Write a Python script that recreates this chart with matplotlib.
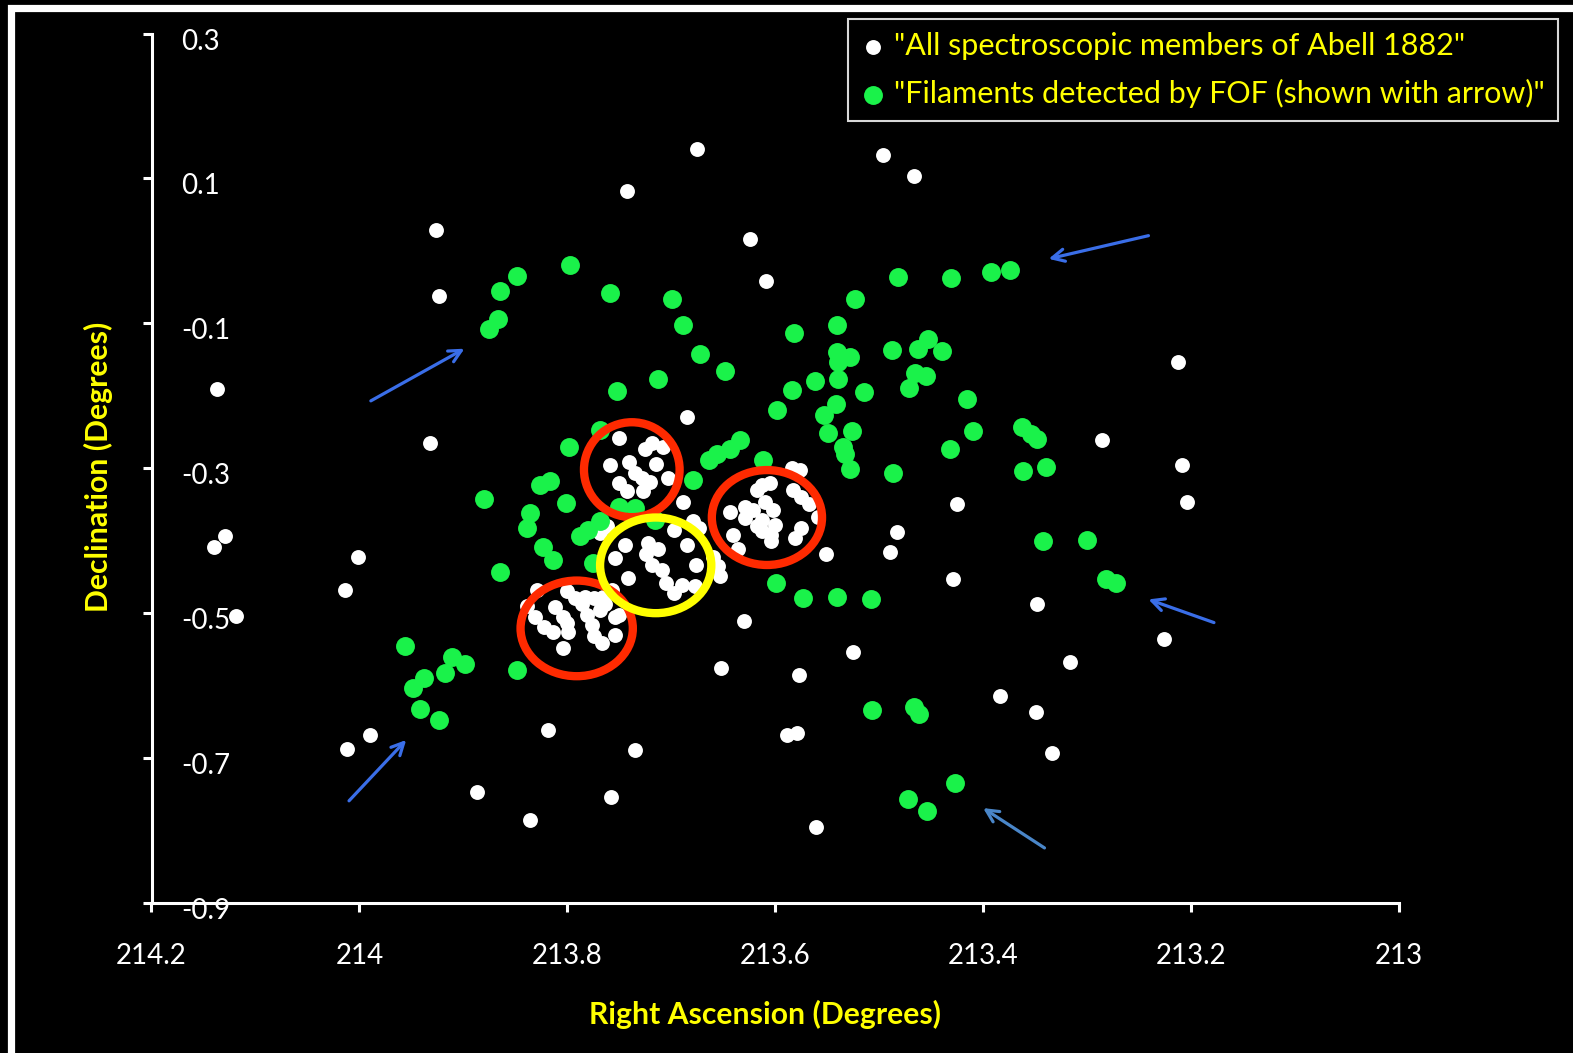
import numpy as np
import matplotlib.pyplot as plt
from matplotlib.patches import Ellipse
from matplotlib.lines import Line2D
from matplotlib.transforms import ScaledTranslation

plt.rcParams['font.family'] = ['Lato', 'DejaVu Sans']

# all spectroscopic members of the cluster (RA, Dec in degrees)
members_ra = [
    213.675, 213.743, 213.496, 213.467, 213.926, 213.923, 213.624, 213.609,
    214.137, 213.932, 213.685, 213.213, 213.286, 213.209, 213.204, 213.425,
    213.483, 213.490, 213.551, 213.429, 213.348, 214.129, 214.140, 214.119,
    214.014, 214.001, 214.012, 213.990, 213.819, 213.887, 213.836, 213.758,
    213.735, 213.652, 213.630, 213.577, 213.589, 213.579, 213.561, 213.525,
    213.384, 213.349, 213.334, 213.316, 213.226,
    # northern clump
    213.750, 213.759, 213.741, 213.725, 213.719, 213.708, 213.715, 213.735,
    213.728, 213.720, 213.703, 213.750, 213.727, 213.743, 213.689,
    # south-eastern clump
    213.829, 213.800, 213.793, 213.783, 213.774, 213.766, 213.757, 213.812,
    213.804, 213.800, 213.786, 213.781, 213.769, 213.764, 213.831, 213.822,
    213.814, 213.799, 213.776, 213.774, 213.767, 213.754, 213.750, 213.754,
    213.804, 213.839,
    # central clump
    213.679, 213.673, 213.697, 213.722, 213.713, 213.724, 213.685, 213.745,
    213.754, 213.719, 213.709, 213.676, 213.742, 213.705, 213.690, 213.697,
    213.677, 213.769, 213.762, 213.660, 213.655, 213.653,
    # western clump
    213.584, 213.576, 213.613, 213.605, 213.618, 213.583, 213.575, 213.568,
    213.644, 213.629, 213.621, 213.610, 213.602, 213.629, 213.613, 213.600,
    213.613, 213.604, 213.618, 213.604, 213.641, 213.575, 213.581, 213.636,
    213.559,
]
members_dec = [
    0.140, 0.082, 0.133, 0.104, 0.029, -0.062, 0.016, -0.041,
    -0.191, -0.265, -0.229, -0.153, -0.261, -0.296, -0.347, -0.349,
    -0.388, -0.415, -0.418, -0.453, -0.487, -0.394, -0.408, -0.504,
    -0.468, -0.422, -0.687, -0.668, -0.661, -0.747, -0.785, -0.754,
    -0.689, -0.576, -0.511, -0.586, -0.668, -0.665, -0.795, -0.554,
    -0.615, -0.636, -0.693, -0.567, -0.536,
    -0.258, -0.295, -0.291, -0.274, -0.265, -0.270, -0.294, -0.306,
    -0.314, -0.319, -0.314, -0.320, -0.331, -0.332, -0.346,
    -0.468, -0.470, -0.479, -0.477, -0.479, -0.477, -0.468, -0.492,
    -0.505, -0.513, -0.488, -0.502, -0.495, -0.488, -0.505, -0.519,
    -0.526, -0.526, -0.516, -0.532, -0.541, -0.505, -0.502, -0.530,
    -0.548, -0.490,
    -0.373, -0.383, -0.385, -0.403, -0.412, -0.419, -0.406, -0.406,
    -0.424, -0.433, -0.440, -0.433, -0.451, -0.458, -0.461, -0.472,
    -0.463, -0.389, -0.380, -0.422, -0.435, -0.449,
    -0.300, -0.302, -0.323, -0.320, -0.330, -0.330, -0.339, -0.350,
    -0.360, -0.353, -0.357, -0.346, -0.357, -0.369, -0.371, -0.378,
    -0.387, -0.392, -0.380, -0.401, -0.392, -0.383, -0.396, -0.412,
    -0.367,
]

# galaxies in filaments picked out by the friends-of-friends run
filament_ra = [
    213.956, 213.948, 213.938, 213.942, 213.923, 213.918, 213.911, 213.898,
    213.848, 213.875, 213.867, 213.865, 213.848, 213.797, 213.759, 213.699,
    213.689, 213.672, 213.648, 213.713, 213.752, 213.482, 213.431, 213.392,
    213.374, 213.523, 213.541, 213.582, 213.541, 213.528, 213.540, 213.488,
    213.463, 213.453, 213.440, 213.466, 213.455, 213.471, 213.562, 213.540,
    213.584, 213.515, 213.598, 213.542, 213.553, 213.416, 213.549, 213.526,
    213.535, 213.533, 213.528, 213.487, 213.432, 213.410, 213.612, 213.363,
    213.354, 213.348, 213.340, 213.362, 213.342, 213.300, 213.282, 213.272,
    213.798, 213.769, 213.679, 213.664, 213.656, 213.644, 213.634, 213.826,
    213.817, 213.801, 213.836, 213.839, 213.823, 213.814, 213.865, 213.788,
    213.780, 213.769, 213.775, 213.750, 213.735, 213.716, 213.599, 213.573,
    213.541, 213.508, 213.880, 213.507, 213.467, 213.462, 213.472, 213.454,
    213.427,
]
filament_dec = [
    -0.545, -0.603, -0.590, -0.632, -0.647, -0.582, -0.561, -0.570,
    -0.579, -0.108, -0.094, -0.055, -0.034, -0.020, -0.058, -0.067,
    -0.102, -0.143, -0.166, -0.177, -0.193, -0.036, -0.037, -0.029,
    -0.026, -0.066, -0.102, -0.113, -0.139, -0.147, -0.153, -0.137,
    -0.135, -0.121, -0.138, -0.168, -0.172, -0.189, -0.179, -0.177,
    -0.192, -0.195, -0.219, -0.211, -0.226, -0.204, -0.252, -0.248,
    -0.270, -0.281, -0.301, -0.307, -0.274, -0.248, -0.288, -0.243,
    -0.253, -0.260, -0.298, -0.304, -0.401, -0.399, -0.453, -0.459,
    -0.270, -0.247, -0.316, -0.288, -0.281, -0.273, -0.261, -0.323,
    -0.318, -0.348, -0.362, -0.383, -0.408, -0.426, -0.443, -0.394,
    -0.385, -0.373, -0.431, -0.353, -0.355, -0.371, -0.458, -0.479,
    -0.477, -0.481, -0.343, -0.633, -0.629, -0.639, -0.756, -0.773,
    -0.734,
]

# rings around the substructures: centre and extent in degrees
ring_ra = [213.738, 213.608, 213.791, 213.715]
ring_dec = [-0.302, -0.368, -0.521, -0.434]
ring_width = [0.092, 0.106, 0.108, 0.107]
ring_height = [0.131, 0.131, 0.132, 0.132]
ring_colors = ['#ff2a00', '#ff2a00', '#ff2a00', '#ffff00']

# arrows pointing at the filaments: (tail RA, tail Dec) -> (head RA, head Dec)
arrow_tail = [(213.989, -0.207), (213.241, 0.021), (213.178, -0.513),
              (214.010, -0.759), (213.341, -0.824)]
arrow_head = [(213.899, -0.135), (213.337, -0.011), (213.241, -0.481),
              (213.955, -0.675), (213.400, -0.769)]
arrow_colors = ['#3a6ee8', '#3a6ee8', '#3a6ee8', '#3a6ee8', '#4a86c8']

xticks = [214.2, 214.0, 213.8, 213.6, 213.4, 213.2, 213.0]
xtick_labels = ['214.2', '214', '213.8', '213.6', '213.4', '213.2', '213']
yticks = [0.3, 0.1, -0.1, -0.3, -0.5, -0.7, -0.9]
ytick_labels = ['0.3', '0.1', '-0.1', '-0.3', '-0.5', '-0.7', '-0.9']

W, H = 1573, 1053
fig = plt.figure(figsize=(W / 100, H / 100), dpi=100, facecolor='black')
ax = fig.add_axes([151.5 / W, 1 - 903 / H, 1247.5 / W, 869.5 / H])
ax.set_facecolor('black')

ax.scatter(members_ra, members_dec, s=115, c='white', linewidths=0, zorder=3,
           label='"All spectroscopic members of Abell 1882"')
ax.scatter(filament_ra, filament_dec, s=185, c='#1af24a', linewidths=0, zorder=4,
           label='"Filaments detected by FOF (shown with arrow)"')

for ra, dec, w, h, col in zip(ring_ra, ring_dec, ring_width, ring_height, ring_colors):
    ax.add_patch(Ellipse((ra, dec), w, h, fill=False, ec=col, lw=6, zorder=5))

for tail, head, col in zip(arrow_tail, arrow_head, arrow_colors):
    ax.annotate('', xy=head, xytext=tail,
                arrowprops=dict(arrowstyle='->', color=col, lw=2.3,
                                mutation_scale=22, shrinkA=0, shrinkB=0))

ax.set_xlim(214.2, 213.0)
ax.set_ylim(-0.9, 0.3)
ax.set_xticks(xticks)
ax.set_xticklabels(xtick_labels)
ax.set_yticks(yticks)
ax.set_yticklabels(ytick_labels)

for side in ['top', 'right']:
    ax.spines[side].set_visible(False)
for side in ['left', 'bottom']:
    ax.spines[side].set_color('white')
    ax.spines[side].set_linewidth(2.2)

ax.tick_params(colors='white', width=2.2, length=6.5, direction='out',
               labelsize=20)
ax.tick_params(axis='x', pad=22)
# value labels of the Dec axis sit just inside the axis line, a touch low
ax.tick_params(axis='y', pad=-28)
shift_down = ScaledTranslation(0, -4 / 72, fig.dpi_scale_trans)
for lab in ax.get_yticklabels():
    lab.set_horizontalalignment('left')
    lab.set_transform(lab.get_transform() + shift_down)

ax.set_xlabel('Right Ascension (Degrees)', color='#ffff00', fontsize=21.7,
              fontweight='bold')
ax.xaxis.set_label_coords(0.492, -0.112)
ax.set_ylabel('Declination (Degrees)', color='#ffff00', fontsize=21.7,
              fontweight='bold')
ax.yaxis.set_label_coords(-0.031, 0.502)

leg = ax.legend(loc='upper right', bbox_to_anchor=(1558 / W, 1 - 19 / H),
                bbox_transform=fig.transFigure, fontsize=22, labelcolor='#ffff00',
                facecolor='black', edgecolor='#d8d8d8', fancybox=False,
                framealpha=1, handlelength=0.8, handletextpad=0.3,
                borderpad=0.42, labelspacing=0.62, borderaxespad=0)
leg.get_frame().set_linewidth(1.5)

# white border along the top and left of the slide
fig.add_artist(Line2D([11 / W, 11 / W, 1.0], [0.0, 1 - 7.5 / H, 1 - 7.5 / H],
                      color='white', lw=5.2, solid_joinstyle='miter'))

fig.savefig('out.png', dpi=100, facecolor='black')
